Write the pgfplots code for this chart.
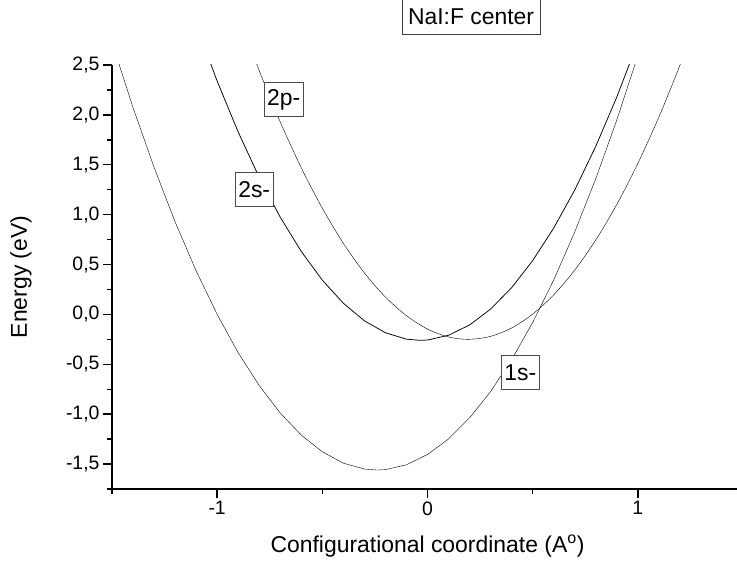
\documentclass[border=0pt]{standalone}
\usepackage{fontspec}
\setmainfont{Liberation Sans}
\usepackage{pgfplots}
\pgfplotsset{compat=1.18}

\begin{document}
\begin{tikzpicture}
\path[use as bounding box] (-112bp,-81bp) rectangle (625bp,489bp);
\begin{axis}[
    scale only axis,
    width=631bp, height=424bp,
    xmin=-1.5, xmax=1.5,
    ymin=-1.75, ymax=2.5,
    axis x line=bottom, axis y line=left,
    x axis line style={-, line width=1.8bp},
    y axis line style={-, line width=1.8bp},
    tick align=outside,
    major tick length=9bp, minor tick length=5bp,
    every tick/.style={black, line width=1.4bp},
    xtick={-1,0,1}, minor xtick={-1.5,-0.5,0.5},
    ytick={-1.5,-1,...,2.5},
    minor ytick={-1.75,-1.25,...,2.25},
    /pgf/number format/assume math mode=true,
    xticklabel style={font=\fontsize{19.5}{21}\selectfont,
        /pgf/number format/.cd, fixed, precision=0},
    yticklabel style={font=\fontsize{19.5}{21}\selectfont,
        /pgf/number format/.cd, fixed, fixed zerofill, precision=1, use comma},
    xlabel={Configurational coordinate (A\textsuperscript{o})},
    ylabel={Energy (eV)},
    label style={font=\fontsize{23}{26}\selectfont},
    xlabel style={at={(axis description cs:0.5,-0.134)}, anchor=center},
    ylabel style={at={(axis description cs:-0.1442,0.5)}, anchor=center},
    title={NaI:F center},
    title style={at={(axis description cs:0.569,1.1002)}, anchor=center,
        font=\fontsize{23}{26}\selectfont, draw=black!75, line width=0.8bp,
        inner xsep=6bp, minimum height=35bp},
    cycle list={{black, line width=0.75bp, smooth, no marks}},
]
% 1s-
\addplot coordinates {
(-1.5,2.727) (-1.4,2.073) (-1.3,1.474) (-1.2,0.928) (-1.1,0.437) (-1.0,0.000)
(-0.9,-0.384) (-0.8,-0.713) (-0.7,-0.989) (-0.6,-1.210) (-0.5,-1.377)
(-0.4,-1.491) (-0.3,-1.550) (-0.24,-1.560) (-0.2,-1.556) (-0.1,-1.507)
(0.0,-1.404) (0.1,-1.248) (0.2,-1.037) (0.3,-0.773) (0.4,-0.454)
(0.5,-0.081) (0.6,0.345) (0.7,0.826) (0.8,1.360) (0.9,1.949) (1.0,2.592)
};
% 2s-
\addplot coordinates {
(-1.1,2.904) (-1.0,2.338) (-0.9,1.828) (-0.8,1.373) (-0.7,0.974) (-0.6,0.631)
(-0.5,0.343) (-0.4,0.112) (-0.3,-0.064) (-0.2,-0.184) (-0.1,-0.248)
(-0.035,-0.260) (0.0,-0.257) (0.1,-0.209) (0.2,-0.106) (0.3,0.053)
(0.4,0.268) (0.5,0.539) (0.6,0.865) (0.7,1.247) (0.8,1.685) (0.9,2.179) (1.0,2.729)
};
% 2p-
\addplot coordinates {
(-0.9,3.011) (-0.8,2.443) (-0.7,1.929) (-0.6,1.469) (-0.5,1.064) (-0.4,0.713)
(-0.3,0.416) (-0.2,0.174) (-0.1,-0.013) (0.0,-0.147) (0.1,-0.226)
(0.195,-0.250) (0.3,-0.220) (0.4,-0.136) (0.5,0.003) (0.6,0.196)
(0.7,0.444) (0.8,0.746) (0.9,1.102) (1.0,1.513) (1.1,1.978) (1.2,2.497) (1.3,3.071)
};
\tikzset{lbl/.style={draw=black!70, fill=white, line width=0.8bp,
    font=\fontsize{23}{26}\selectfont, inner xsep=3bp, minimum height=34bp}}
\node[lbl] at (axis cs:-0.684,2.152) {2p-};
\node[lbl] at (axis cs:-0.824,1.254) {2s-};
\node[lbl] at (axis cs:0.441,-0.582) {1s-};
\end{axis}
\end{tikzpicture}
\end{document}
